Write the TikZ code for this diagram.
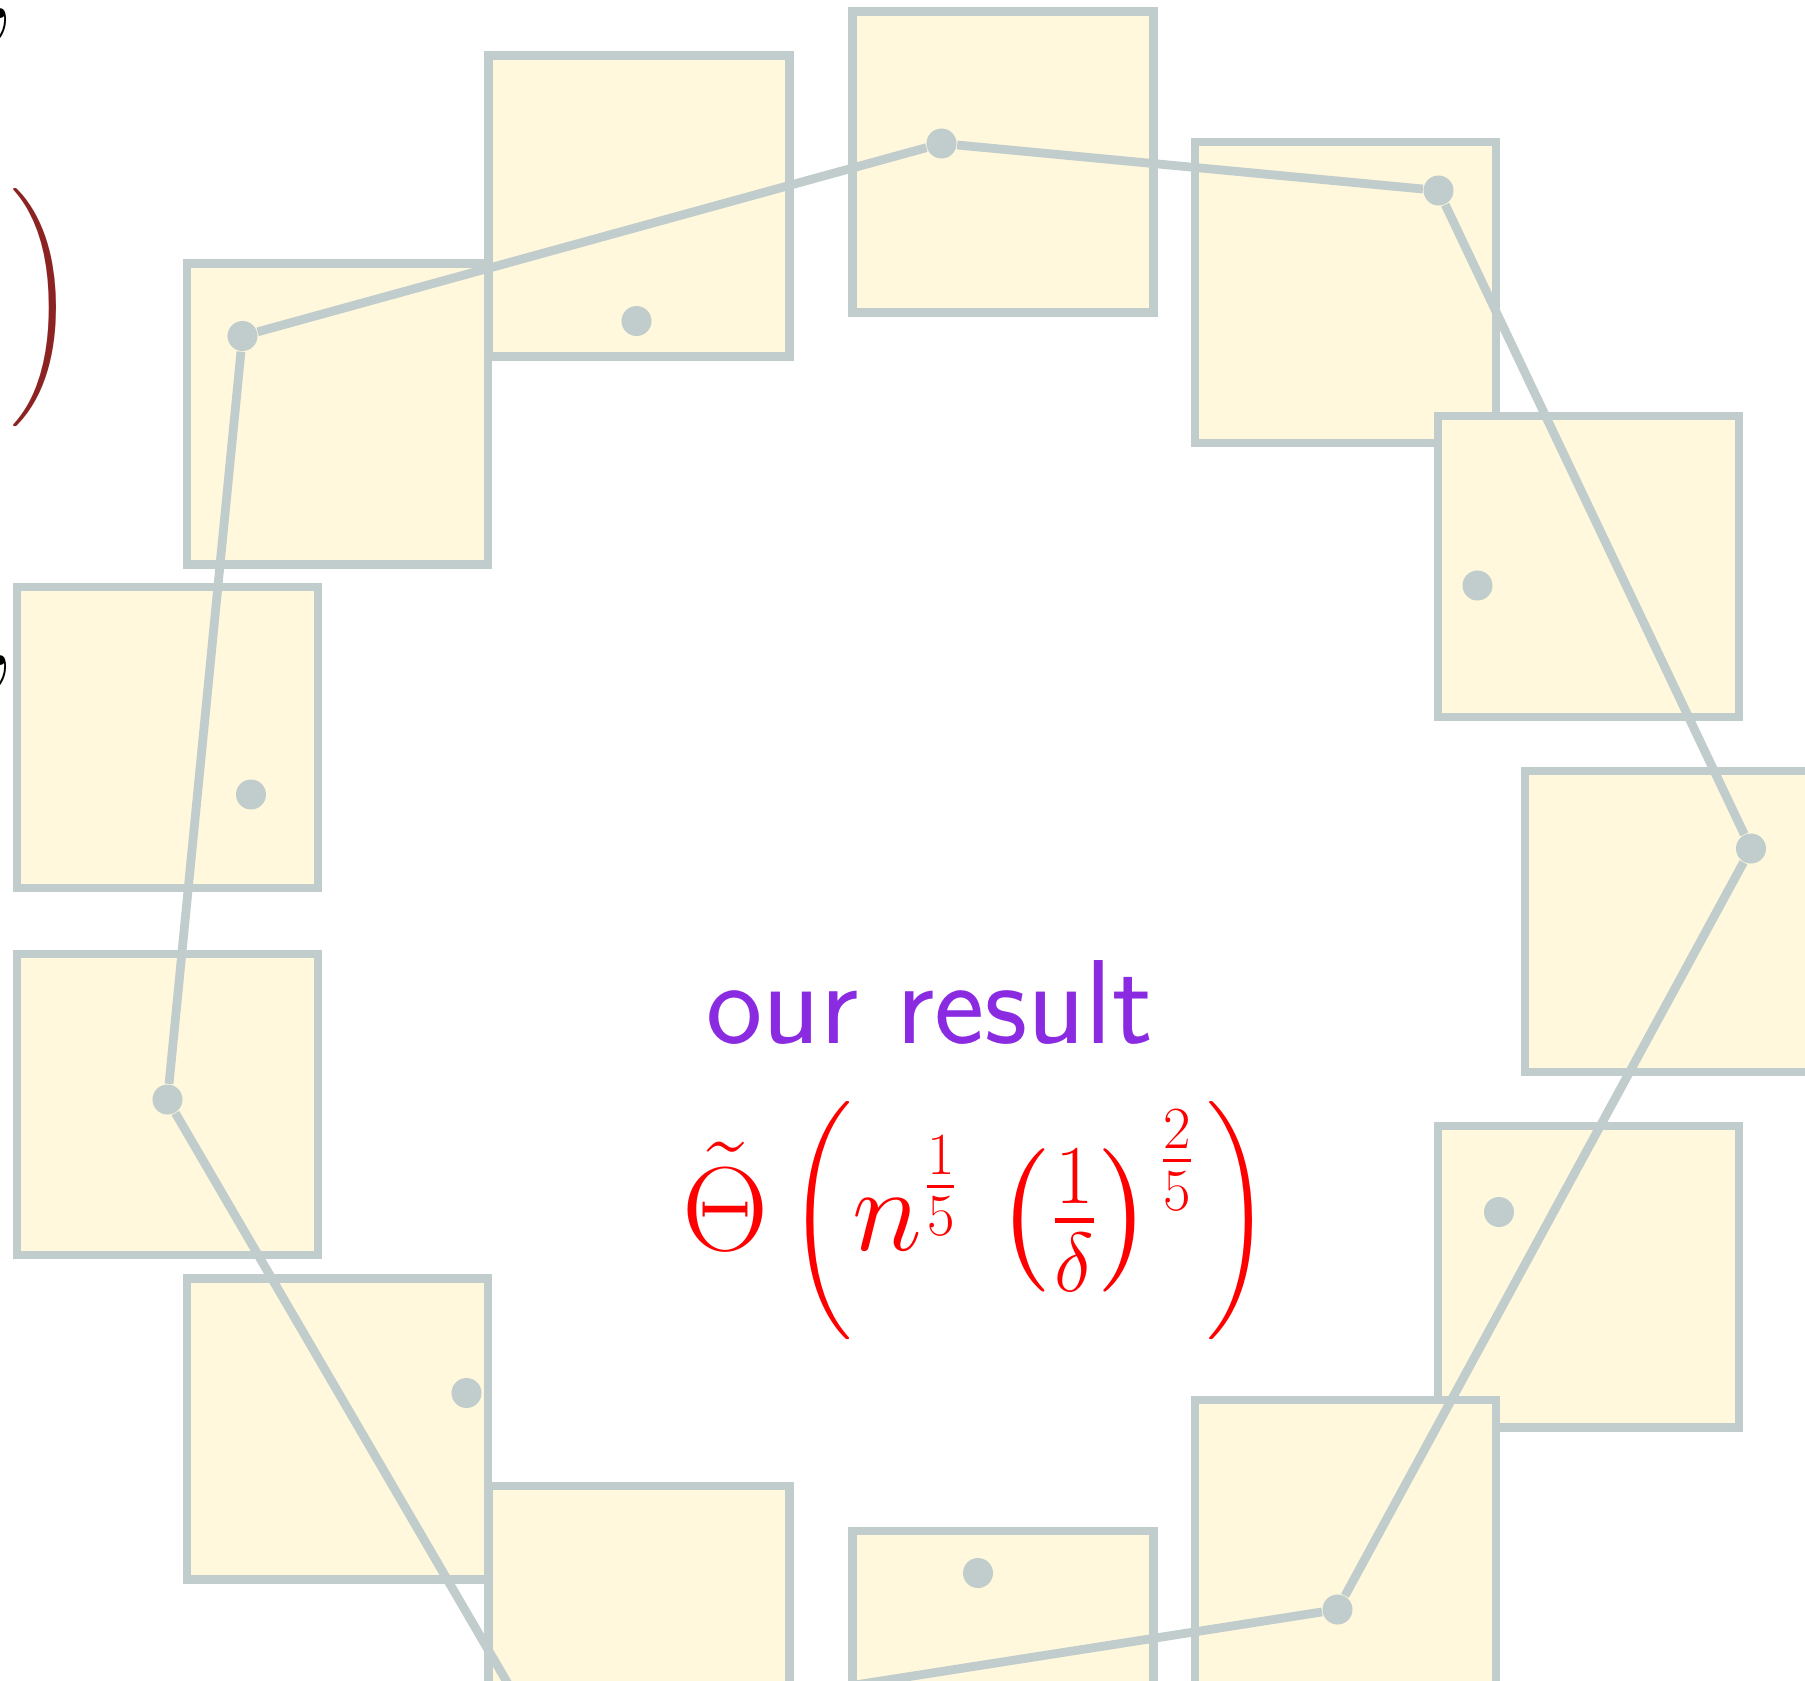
\documentclass[tikz,border=0pt]{standalone}
\usepackage{fix-cm}
\usepackage{amsmath, amssymb}
\usepackage{graphicx}
\usepackage{xcolor}
\usepackage{tikz}
\usetikzlibrary{positioning}

\definecolor{azure3}{RGB}{193,205,205}
\definecolor{cornsilk}{RGB}{255,248,220}
\definecolor{blueviolet}{RGB}{138,43,226}
\definecolor{darkred}{RGB}{140,35,35}

% scaled bigg parentheses
\newcommand{\lbigp}{\mathopen{\vcenter{\hbox{\scalebox{0.73}[0.83]{$\bigg($}}}}}
\newcommand{\rbigp}{\mathclose{\vcenter{\hbox{\scalebox{0.73}[0.83]{$\bigg)$}}}}}

\begin{document}
\begin{tikzpicture}[
  x=0.01cm, y=-0.01cm,
  cell/.style      = {draw=azure3, fill=cornsilk, line width=2.5pt,
                      minimum size=3.01cm, inner sep=0pt},
  spot/.style      = {circle, fill=azure3, minimum size=0.3cm, inner sep=0pt},
  tour/.style      = {draw=azure3, line width=2.5pt},
  slidefont/.style = {inner sep=0pt, font=\fontsize{34}{42}\selectfont},
  sansfont/.style  = {inner sep=0pt, font=\sffamily\fontsize{34}{42}\selectfont}
]
\useasboundingbox (0,0) rectangle (1805,1681);
\clip (0,0) rectangle (1805,1681);

% ── Cells ────────────────────────────────────────────────────────────────────
\node[cell] (c1)  at (1003,162)     {};
\node[cell] (c2)  at (639,206)      {};
\node[cell] (c3)  at (337.5,414)    {};
\node[cell] (c4)  at (167.5,737.5)  {};
\node[cell] (c5)  at (167.5,1104.5) {};
\node[cell] (c6)  at (337.5,1429)   {};
\node[cell] (c7)  at (639,1636.5)   {};
\node[cell] (c8)  at (1003,1681.5)  {};
\node[cell] (c10) at (1588.5,1276.5) {};
\node[cell] (c9)  at (1345.5,1550.5) {};
\node[cell] (c11) at (1675.5,921.5) {};
\node[cell] (c13) at (1345.5,292.5) {};
\node[cell] (c12) at (1588.5,566.5) {};

% ── Points on the tour ───────────────────────────────────────────────────────
\node[spot] (t1)  at (941.5,143.5)  {};
\node[spot] (t13) at (1438.5,190.5) {};
\node[spot] (t11) at (1751,848.5)   {};
\node[spot] (t9)  at (1337.5,1609.5) {};
\node[spot] (t7)  at (537.7,1734.7) {};
\node[spot] (t5)  at (167.5,1099.5) {};
\node[spot] (t3)  at (242.5,336)    {};

% ── Other points ─────────────────────────────────────────────────────────────
\node[spot] (p2)  at (636.5,321)   {};
\node[spot] (p4)  at (251,794.5)   {};
\node[spot] (p6)  at (466.5,1393)  {};
\node[spot] (p8)  at (978,1573)    {};
\node[spot] (p10) at (1499,1212)   {};
\node[spot] (p12) at (1477.5,585.5) {};

% ── Tour ─────────────────────────────────────────────────────────────────────
\draw[tour] (t1) -- (t13) -- (t11) -- (t9) -- (t7) -- (t5) -- (t3) -- (t1);

% ── Labels ───────────────────────────────────────────────────────────────────
\node[sansfont, text=blueviolet, anchor=base west]
  (ours) at (706,1043) {our result};
\node[slidefont, text=red, anchor=base west] (bound) at (682,1250.5)
  {$\tilde{\Theta}\mathinner{\lbigp n^{\frac{1}{5}}\mkern2.3mu
    \left(\frac{1}{\delta}\right)^{\mkern1.3mu\frac{2}{5}}\mkern1.4mu\rbigp}$};

% ── Cut-off pieces at the left edge ──────────────────────────────────────────
\node[slidefont, text=darkred] (prev) at (43,308) {$\rbigp$};
\node[slidefont, anchor=base west] (sep1) at (-15,18)  {,};
\node[slidefont, anchor=base west] (sep2) at (-15,665) {,};

\end{tikzpicture}
\end{document}
